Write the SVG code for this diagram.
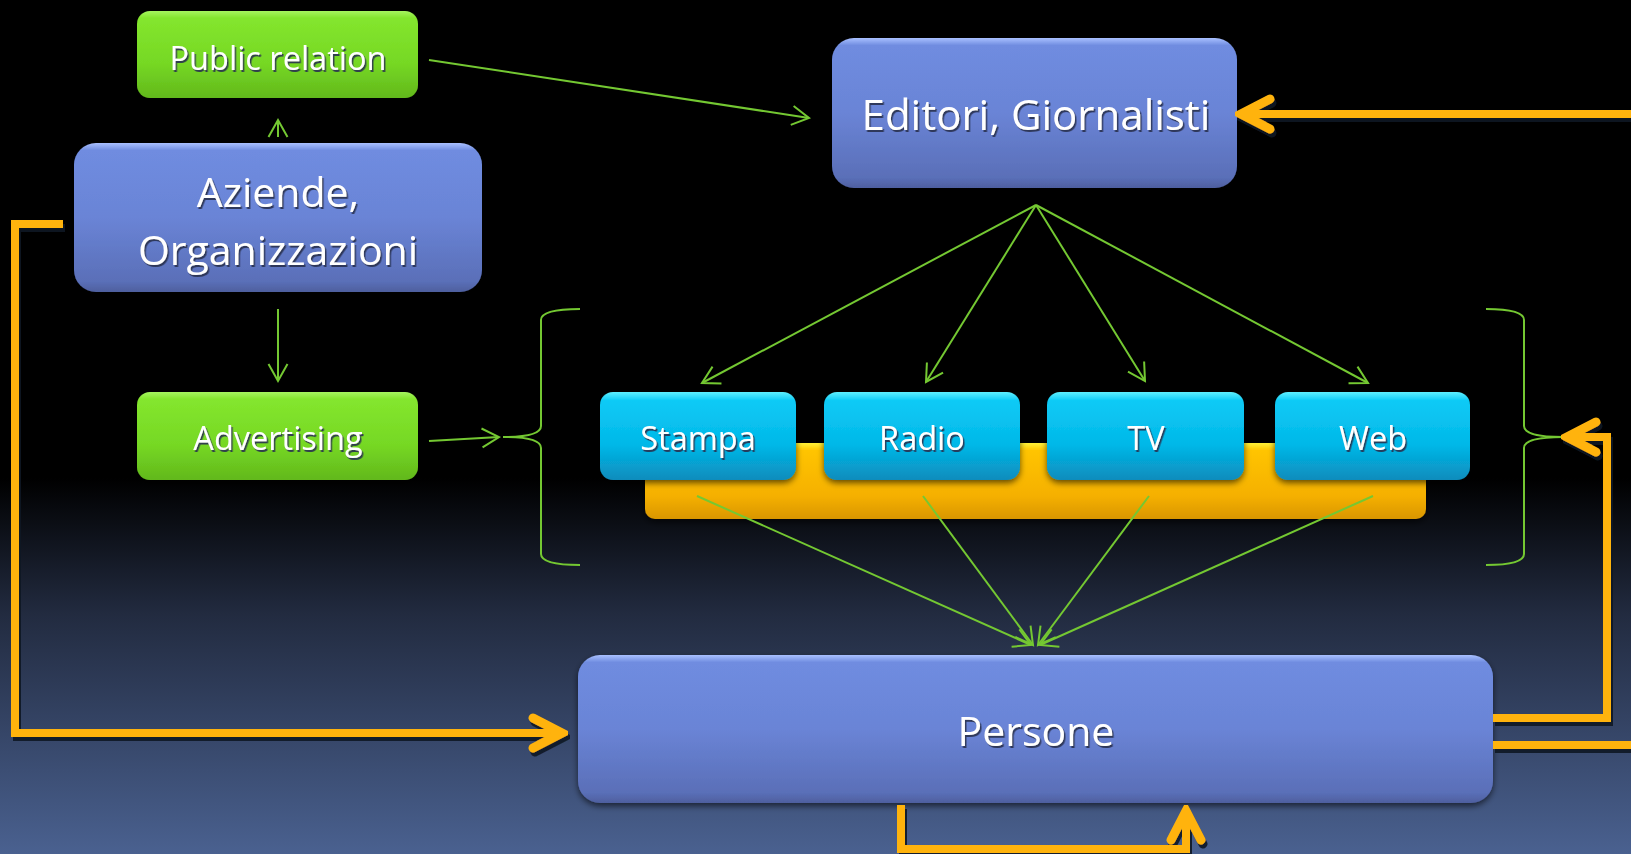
<svg xmlns="http://www.w3.org/2000/svg" width="1631" height="854" viewBox="0 0 1631 854">
  <defs>
    <linearGradient id="bg" x1="0" y1="0" x2="0" y2="1">
      <stop offset="0" stop-color="#000000"/>
      <stop offset="0.56" stop-color="#000000"/>
      <stop offset="0.72" stop-color="#222b40"/>
      <stop offset="1" stop-color="#4a6190"/>
    </linearGradient>
    <linearGradient id="blue" x1="0" y1="0" x2="0" y2="1">
      <stop offset="0" stop-color="#a9c0ff"/>
      <stop offset="0.05" stop-color="#6f8ce0"/>
      <stop offset="0.5" stop-color="#6a84d6"/>
      <stop offset="0.93" stop-color="#5a6fb8"/>
      <stop offset="1" stop-color="#4e5f9e"/>
    </linearGradient>
    <linearGradient id="green" x1="0" y1="0" x2="0" y2="1">
      <stop offset="0" stop-color="#a6f560"/>
      <stop offset="0.08" stop-color="#84e62e"/>
      <stop offset="0.6" stop-color="#76d824"/>
      <stop offset="1" stop-color="#62b81c"/>
    </linearGradient>
    <linearGradient id="cyan" x1="0" y1="0" x2="0" y2="1">
      <stop offset="0" stop-color="#5ff0ff"/>
      <stop offset="0.1" stop-color="#0ccaf6"/>
      <stop offset="0.6" stop-color="#03b8e8"/>
      <stop offset="1" stop-color="#0a8cbc"/>
    </linearGradient>
    <linearGradient id="orange" x1="0" y1="0" x2="0" y2="1">
      <stop offset="0" stop-color="#fff23a"/>
      <stop offset="0.1" stop-color="#ffc400"/>
      <stop offset="0.7" stop-color="#f5b000"/>
      <stop offset="1" stop-color="#d99600"/>
    </linearGradient>
    <filter id="tshadow" x="-10%" y="-20%" width="130%" height="150%">
      <feDropShadow dx="1.5" dy="2" stdDeviation="0.6" flood-color="#2a3050" flood-opacity="0.9"/>
    </filter>
    <filter id="bshadow" x="-10%" y="-10%" width="120%" height="130%">
      <feDropShadow dx="0" dy="3" stdDeviation="3" flood-color="#000000" flood-opacity="0.6"/>
    </filter>
    <filter id="oshadow" x="-5%" y="-5%" width="110%" height="115%">
      <feDropShadow dx="2" dy="4" stdDeviation="0.5" flood-color="#0d1320" flood-opacity="0.9"/>
    </filter>
    <marker id="garrow" viewBox="-20 -12 24 24" refX="0" refY="0" markerWidth="24" markerHeight="24" markerUnits="userSpaceOnUse" orient="auto">
      <path d="M-17,-9.5 L0,0 L-17,9.5" fill="none" stroke="#74c832" stroke-width="2"/>
    </marker>
    <marker id="oarrow" viewBox="-40 -22 46 44" refX="0" refY="0" markerWidth="46" markerHeight="44" markerUnits="userSpaceOnUse" orient="auto">
      <path d="M-29,-15 L0,0 L-29,15" fill="none" stroke="#ffb30f" stroke-width="9" stroke-linecap="round" stroke-linejoin="miter"/>
    </marker>
    <style>
      .blue { fill: url(#blue); filter: url(#bshadow); }
      .green { fill: url(#green); filter: url(#bshadow); }
      .cyan { fill: url(#cyan); filter: url(#bshadow); }
      .lbl { font-family: "Open Sans", "Liberation Sans", sans-serif; fill: #ffffff; text-anchor: middle; filter: url(#tshadow); }
      .g { fill: none; stroke: #74c832; stroke-width: 2; }
      .ga { fill: none; stroke: #74c832; stroke-width: 2; marker-end: url(#garrow); }
      .o { fill: none; stroke: #ffb30f; stroke-width: 8; stroke-linejoin: miter; }
      .oa { fill: none; stroke: #ffb30f; stroke-width: 8; stroke-linejoin: miter; marker-end: url(#oarrow); }
    </style>
  </defs>

  <rect x="0" y="0" width="1631" height="854" fill="url(#bg)"/>

  <g id="public-relation">
    <rect class="green" x="137" y="11" width="281" height="87" rx="13"/>
    <text class="lbl" x="278" y="70" font-size="32.5">Public relation</text>
  </g>

  <g id="aziende">
    <rect class="blue" x="74" y="143" width="408" height="149" rx="22"/>
    <text class="lbl" x="278" y="207" font-size="41">Aziende,</text>
    <text class="lbl" x="278" y="265" font-size="41">Organizzazioni</text>
  </g>

  <g id="advertising">
    <rect class="green" x="137" y="392" width="281" height="88" rx="13"/>
    <text class="lbl" x="278" y="450" font-size="32.5">Advertising</text>
  </g>

  <g id="editori">
    <rect class="blue" x="832" y="38" width="405" height="150" rx="22"/>
    <text class="lbl" x="1036" y="130" font-size="42">Editori, Giornalisti</text>
  </g>

  <g id="media">
    <rect x="645" y="443" width="781" height="76" rx="10" fill="url(#orange)" filter="url(#bshadow)"/>
    <g id="stampa">
      <rect class="cyan" x="600" y="392" width="196" height="88" rx="13"/>
      <text class="lbl" x="698" y="450" font-size="32.5">Stampa</text>
    </g>
    <g id="radio">
      <rect class="cyan" x="824" y="392" width="196" height="88" rx="13"/>
      <text class="lbl" x="922" y="450" font-size="32.5">Radio</text>
    </g>
    <g id="tv">
      <rect class="cyan" x="1047" y="392" width="197" height="88" rx="13"/>
      <text class="lbl" x="1146" y="450" font-size="32.5">TV</text>
    </g>
    <g id="web">
      <rect class="cyan" x="1275" y="392" width="195" height="88" rx="13"/>
      <text class="lbl" x="1373" y="450" font-size="32.5">Web</text>
    </g>
  </g>

  <g id="persone">
    <rect class="blue" x="578" y="655" width="915" height="148" rx="22"/>
    <text class="lbl" x="1036" y="746" font-size="41">Persone</text>
  </g>

  <g id="connectors">
    <g id="braces">
      <path class="g" d="M580,309 Q541,309 541,320 L541,426 Q541,437 503,437 Q541,437 541,448 L541,554 Q541,565 580,565"/>
      <path class="g" d="M1486,309 Q1524,309 1524,320 L1524,426 Q1524,437 1563,437 Q1524,437 1524,448 L1524,554 Q1524,565 1486,565"/>
    </g>
    <g id="green-arrows">
      <line class="ga" x1="278" y1="137" x2="278" y2="120"/>
      <line class="ga" x1="278" y1="309" x2="278" y2="381"/>
      <line class="ga" x1="429" y1="60" x2="809" y2="118"/>
      <line class="ga" x1="429" y1="441" x2="499" y2="437"/>
      <line class="ga" x1="1036" y1="205" x2="702" y2="383"/>
      <line class="ga" x1="1036" y1="205" x2="926" y2="382"/>
      <line class="ga" x1="1036" y1="205" x2="1145" y2="381"/>
      <line class="ga" x1="1036" y1="205" x2="1368" y2="383"/>
      <line class="ga" x1="697" y1="496" x2="1031" y2="645"/>
      <line class="ga" x1="923" y1="496" x2="1033" y2="645"/>
      <line class="ga" x1="1149" y1="496" x2="1038" y2="645"/>
      <line class="ga" x1="1373" y1="496" x2="1040" y2="645"/>
    </g>
    <g id="orange-arrows" filter="url(#oshadow)">
      <path class="oa" d="M63,224 L15,224 L15,733 L562,733"/>
      <path class="oa" d="M1493,718 L1607,718 L1607,437 L1567,437"/>
      <path class="o" d="M1493,745 L1631,745"/>
      <path class="oa" d="M1631,114 L1241,114"/>
      <path class="oa" d="M901,805 L901,849 L1186,849 L1186,811"/>
    </g>
  </g>
</svg>
